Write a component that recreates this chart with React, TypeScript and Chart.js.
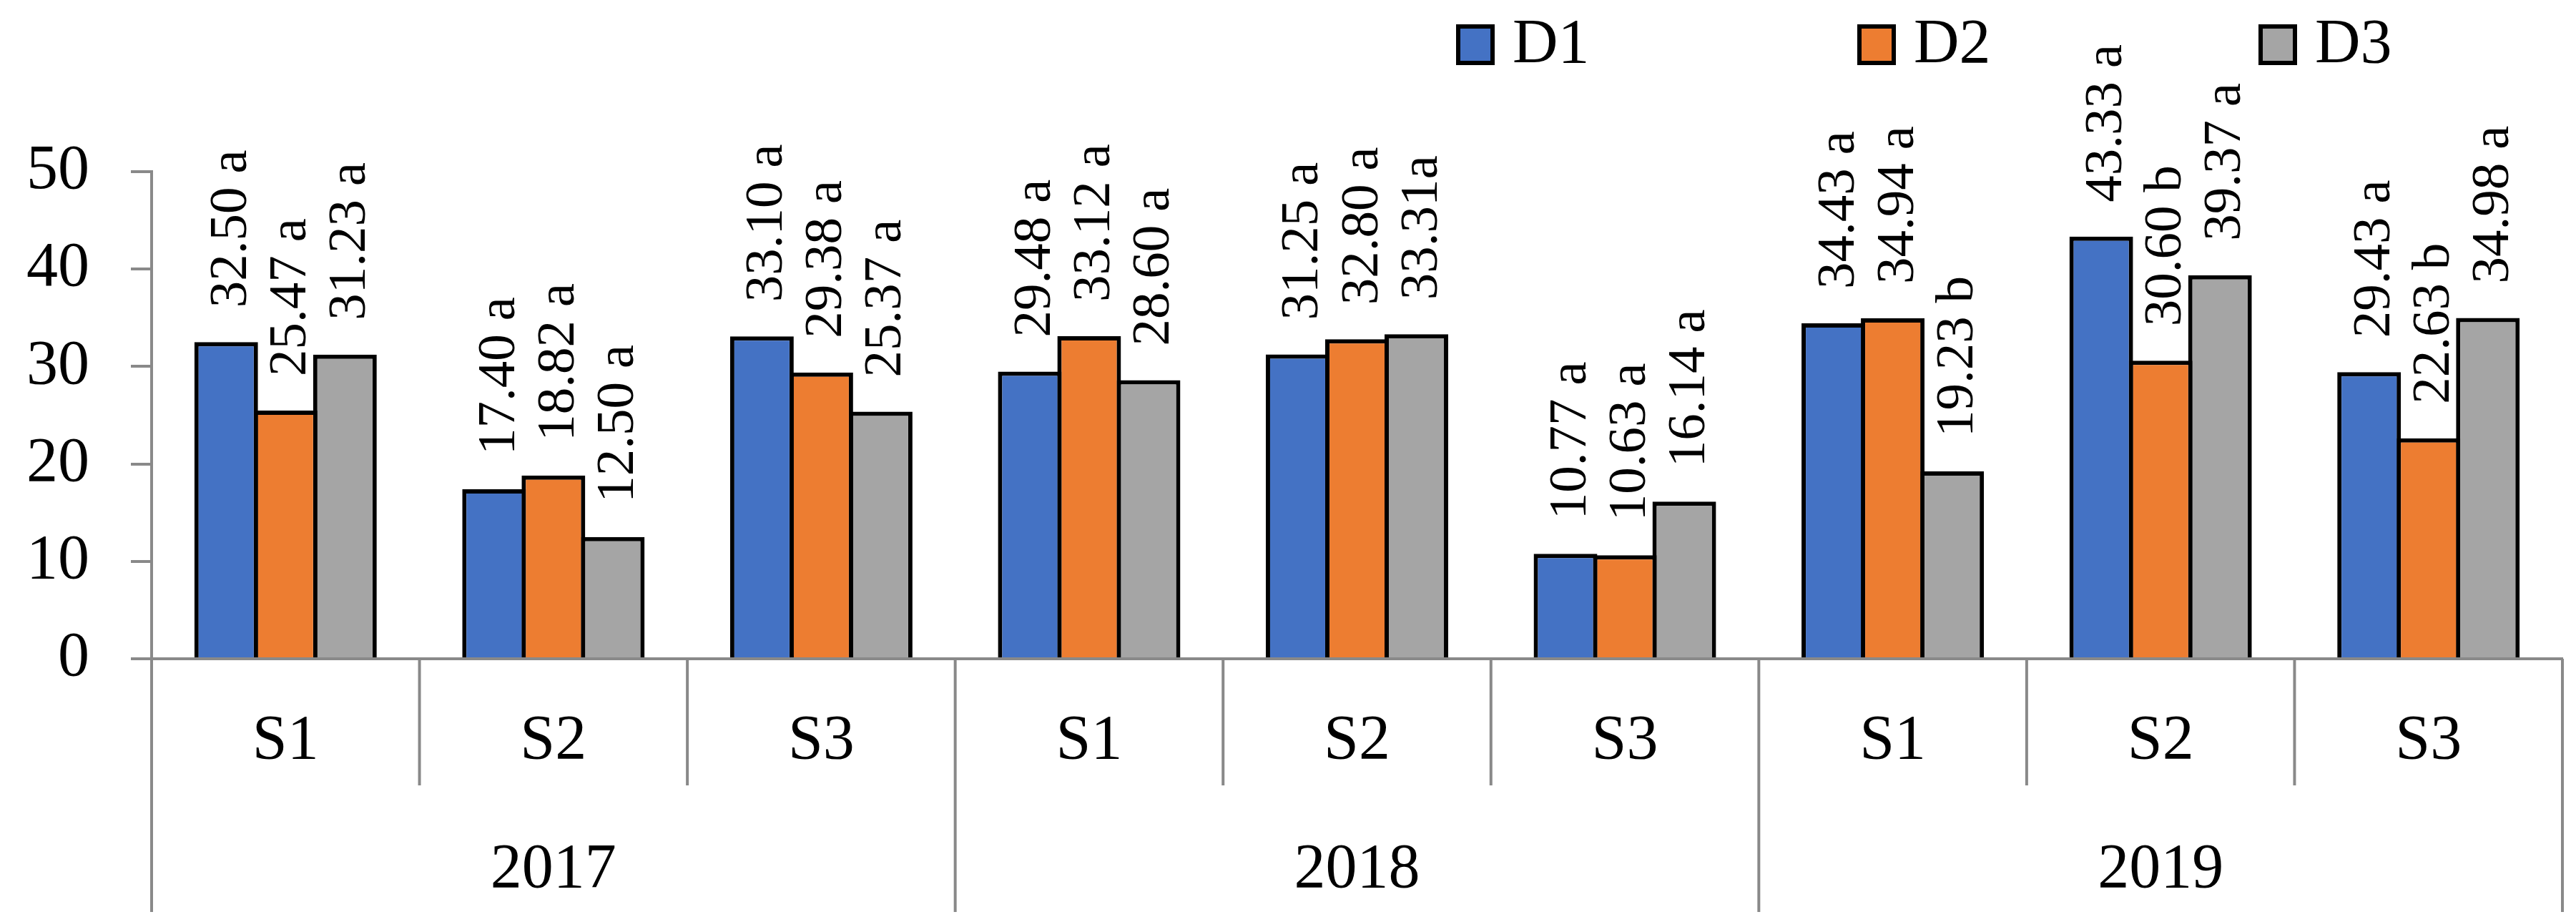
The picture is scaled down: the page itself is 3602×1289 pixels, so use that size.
import { useEffect, useRef } from "react";
import { Chart, BarController, BarElement, CategoryScale, LinearScale } from "chart.js";
Chart.register(BarController, BarElement, CategoryScale, LinearScale);

const categories = ["S1", "S2", "S3", "S1", "S2", "S3", "S1", "S2", "S3"];
const years = ["2017", "2018", "2019"];
const seriesNames = ["D1", "D2", "D3"];
const d1 = [32.5, 17.4, 33.1, 29.48, 31.25, 10.77, 34.43, 43.33, 29.43];
const d2 = [25.47, 18.82, 29.38, 33.12, 32.8, 10.63, 34.94, 30.6, 22.63];
const d3 = [31.23, 12.5, 25.37, 28.6, 33.31, 16.14, 19.23, 39.37, 34.98];
const d1Letters = [" a", " a", " a", " a", " a", " a", " a", " a", " a"];
const d2Letters = [" a", " a", " a", " a", " a", " a", " a", " b", " b"];
const d3Letters = [" a", " a", " a", " a", "a", " a", " b", " a", " a"];
const colors = ["#4472C4", "#ED7D31", "#A5A5A5"];

const GRAY = "#898989";
const FONT = '"Liberation Serif", serif';

const letters = [d1Letters, d2Letters, d3Letters];

// labels over bars, separators, years and legend
const extras = {
  id: "extras",
  afterDatasetsDraw(chart: any) {
    const ctx = chart.ctx;
    ctx.save();
    ctx.font = "75px " + FONT;
    ctx.fillStyle = "#000";
    ctx.textAlign = "left";
    ctx.textBaseline = "alphabetic";
    chart.data.datasets.forEach((ds: any, i: number) => {
      chart.getDatasetMeta(i).data.forEach((bar: any, j: number) => {
        const txt = ds.data[j].toFixed(2) + letters[i][j];
        ctx.save();
        ctx.translate(bar.x + 28, bar.y - 48);
        ctx.rotate(-Math.PI / 2);
        ctx.fillText(txt, 0, 0);
        ctx.restore();
      });
    });
    ctx.restore();
  },
  afterDraw(chart: any) {
    const ctx = chart.ctx;
    const x = chart.scales.x;
    const bottom = chart.chartArea.bottom;
    const w = (x.right - x.left) / categories.length;
    ctx.save();
    ctx.strokeStyle = GRAY;
    ctx.lineWidth = 4;
    for (let k = 0; k <= categories.length; k++) {
      const px = k < categories.length ? x.getPixelForValue(k) - w / 2 : x.getPixelForValue(k - 1) + w / 2;
      const len = k % 3 === 0 ? 354 : 177;
      ctx.beginPath();
      ctx.moveTo(px, bottom);
      ctx.lineTo(px, bottom + len);
      ctx.stroke();
    }
    ctx.fillStyle = "#000";
    ctx.font = "88px " + FONT;
    ctx.textAlign = "center";
    ctx.textBaseline = "middle";
    years.forEach((yr, g) => {
      ctx.fillText(yr, x.getPixelForValue(g * 3 + 1), bottom + 296);
    });

    // legend
    const boxX = [2036, 2597, 3158];
    ctx.textAlign = "left";
    ctx.textBaseline = "alphabetic";
    chart.data.datasets.forEach((ds: any, i: number) => {
      const bx = boxX[i];
      ctx.fillStyle = "#000";
      ctx.fillRect(bx, 34, 54, 57);
      ctx.fillStyle = ds.backgroundColor;
      ctx.fillRect(bx + 6, 40, 42, 45);
      ctx.fillStyle = "#000";
      ctx.fillText(ds.label, bx + 79, 87);
    });
    ctx.restore();
  },
};

export default function App() {
  const ref = useRef<HTMLCanvasElement | null>(null);

  useEffect(() => {
    if (!ref.current) return;
    const series = [d1, d2, d3];
    const chart = new Chart(ref.current, {
      type: "bar",
      data: {
        labels: categories,
        datasets: series.map((data, i) => ({
          label: seriesNames[i],
          data,
          backgroundColor: colors[i],
          borderColor: "#000",
          borderWidth: 6,
          borderSkipped: "start" as const,
          categoryPercentage: 0.665,
          barPercentage: 1.072,
        })),
      },
      options: {
        animation: false,
        responsive: true,
        maintainAspectRatio: false,
        layout: { padding: { top: 240, right: 19, left: 0, bottom: 0 } },
        plugins: { legend: { display: false }, tooltip: { enabled: false } },
        scales: {
          x: {
            grid: { display: false, drawTicks: false },
            border: { display: true, color: GRAY, width: 4 },
            ticks: { color: "#000", font: { family: FONT, size: 88 }, padding: 63, maxRotation: 0 },
            afterFit: (s: any) => {
              s.height = 368;
            },
          },
          y: {
            min: 0,
            max: 50,
            grid: { drawOnChartArea: false, drawTicks: true, tickLength: 29, color: GRAY, lineWidth: 4 },
            border: { display: true, color: GRAY, width: 4 },
            ticks: { stepSize: 10, color: "#000", font: { family: FONT, size: 88 }, padding: 58 },
            afterFit: (s: any) => {
              s.width = 212;
            },
          },
        },
      },
      plugins: [extras],
    });
    return () => chart.destroy();
  }, []);

  return (
    <div style={{ position: "fixed", left: 0, top: 0, width: 3602, height: 1289, background: "#fff" }}>
      <canvas ref={ref} />
    </div>
  );
}
